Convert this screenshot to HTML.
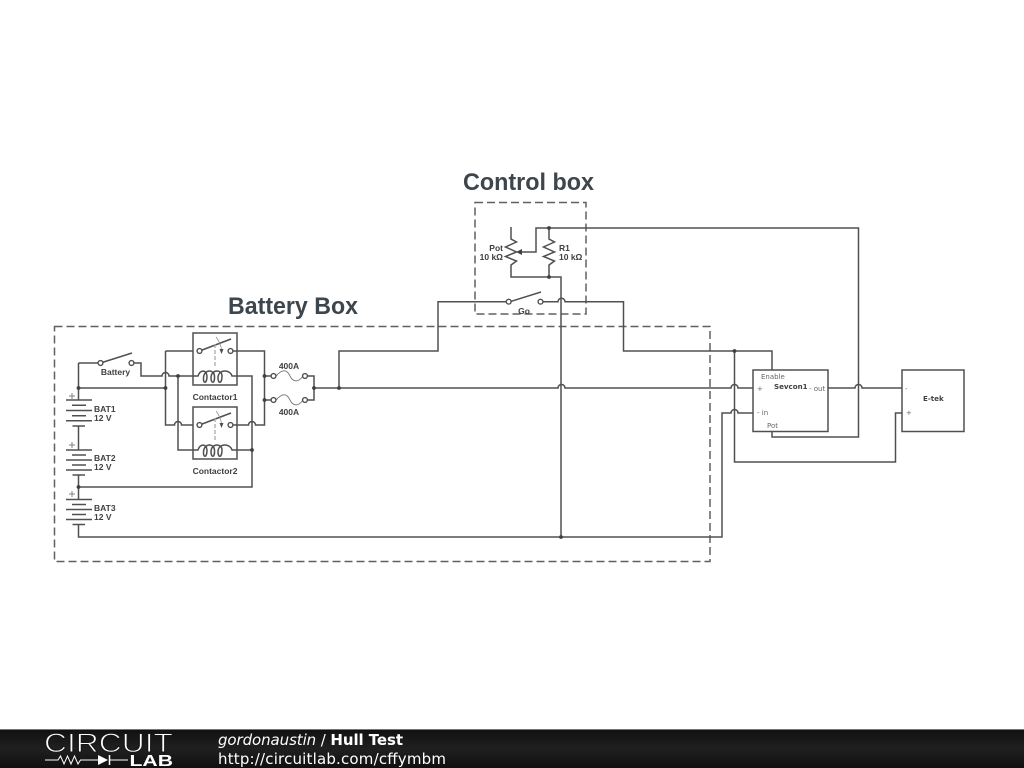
<!DOCTYPE html>
<html>
<head>
<meta charset="utf-8">
<title>Hull Test</title>
<style>
html,body{margin:0;padding:0;background:#fff;width:1024px;height:768px;overflow:hidden}
svg{display:block;filter:blur(.35px)}
.w{fill:none;stroke:#505050;stroke-width:1.5}
.d{fill:#404040}
.c{fill:#fff;stroke:#505050;stroke-width:1.4}
.l{font:bold 8.5px "Liberation Sans",sans-serif;fill:#404040}
.s{font:7px "DejaVu Sans",sans-serif;fill:#666}
.b{font:bold 7.1px "DejaVu Sans",sans-serif;fill:#404040}
.t{font:bold 24px "Liberation Sans",sans-serif;fill:#3c464c}
.dash{fill:none;stroke:#606060;stroke-width:1.5;stroke-dasharray:8 4}
.f{fill:none;stroke:#808080;stroke-width:1}
</style>
</head>
<body>
<svg width="1024" height="768" viewBox="0 0 1024 768" xmlns="http://www.w3.org/2000/svg">
<defs>
<linearGradient id="g" x1="0" y1="0" x2="0" y2="1">
<stop offset="0" stop-color="#101010"/>
<stop offset="0.5" stop-color="#202020"/>
<stop offset="1" stop-color="#101010"/>
</linearGradient>
</defs>
<rect width="1024" height="768" fill="#fff"/>

<text class="t" x="463" y="190" textLength="131" lengthAdjust="spacingAndGlyphs">Control box</text>
<text class="t" x="228" y="314" textLength="130" lengthAdjust="spacingAndGlyphs">Battery Box</text>
<rect class="dash" x="475" y="202.500" width="111" height="111.500"/>
<rect class="dash" x="54.500" y="326.500" width="655.500" height="235"/>

<!-- batteries -->
<path class="w" d="M78.500 363V400M66 400H92M72 405.300H86M66 410.500H92M72 415.700H86M66 420.800H92M72.500 426H85M78.500 426V449.500
M66 450H92M72 455H86M66 460H92M72 465H86M66 470H92M72.500 475H85M78.500 475V499.500
M66 499.500H92M72 504.500H86M66 509.500H92M72 514.500H86M66 519.500H92M72.500 524.500H85M78.500 524.500V537H722V413H731a3.500 3.500 0 0 1 7 0H753"/>
<path class="f" d="M69 396H75M72 393V399M69 445H75M72 442V448M69 494H75M72 491V497"/>

<!-- battery switch and wiring -->
<path class="w" d="M78.500 363H100M100.500 363L132 353M131.500 363H141V376H162a3.500 3.500 0 0 1 7 0H198"/>
<circle class="c" cx="100.500" cy="363" r="2.400"/>
<circle class="c" cx="131.500" cy="363" r="2.400"/>
<path class="w" d="M78.500 388H165.500M165.500 351V425H174.500a3.500 3.500 0 0 1 7 0H199.500M165.500 351H199.500M178 376V450H198"/>

<!-- contactors -->
<rect x="193" y="333" width="44" height="52" fill="#fff" stroke="#505050" stroke-width="1.5"/>
<rect x="193" y="407" width="44" height="52" fill="#fff" stroke="#505050" stroke-width="1.5"/>
<g>
<path class="w" d="M199.500 351L231 339"/>
<path d="M215 344V368" fill="none" stroke="#aaa" stroke-width="1.3" stroke-dasharray="4 2"/>
<path d="M216 337Q220 342 221.500 349" fill="none" stroke="#888" stroke-width=".7"/>
<path d="M219.500 349H223.500L221.500 354Z" fill="#505050"/>
<path class="w" d="M193 376H198C200 370 206 369 207 376C207 384 203 384 203.500 378C204 369 214 369 214.500 376C215 384 211 384 211 378C211 369 222 369 222 376C222 384 218 384 218 378C218 369 230 369 232 376H237"/>
<circle class="c" cx="199.500" cy="351" r="2.400"/>
<circle class="c" cx="230.500" cy="351" r="2.400"/>
</g>
<g transform="translate(0,74)">
<path class="w" d="M199.500 351L231 339"/>
<path d="M215 344V368" fill="none" stroke="#aaa" stroke-width="1.3" stroke-dasharray="4 2"/>
<path d="M216 337Q220 342 221.500 349" fill="none" stroke="#888" stroke-width=".7"/>
<path d="M219.500 349H223.500L221.500 354Z" fill="#505050"/>
<path class="w" d="M193 376H198C200 370 206 369 207 376C207 384 203 384 203.500 378C204 369 214 369 214.500 376C215 384 211 384 211 378C211 369 222 369 222 376C222 384 218 384 218 378C218 369 230 369 232 376H237"/>
<circle class="c" cx="199.500" cy="351" r="2.400"/>
<circle class="c" cx="230.500" cy="351" r="2.400"/>
</g>
<path class="w" d="M233 351H264.500V425H255.500a3.500 3.500 0 0 0 -7 0H233M237 376H252V487H78.500M237 450H252"/>

<!-- fuses -->
<path class="w" d="M264.500 376H271M264.500 400H271M307.500 376H314V400H307.500"/>
<path class="f" d="M276 376C283 368 287 370 290 376C293 382 298 383 303 376"/>
<path class="f" d="M276 400C283 392 287 394 290 400C293 406 298 407 303 400"/>
<circle class="c" cx="273.500" cy="376" r="2.400"/>
<circle class="c" cx="305" cy="376" r="2.400"/>
<circle class="c" cx="273.500" cy="400" r="2.400"/>
<circle class="c" cx="305" cy="400" r="2.400"/>

<!-- main bus -->
<path class="w" d="M314 388H558a3.500 3.500 0 0 1 7 0H731a3.500 3.500 0 0 1 7 0H753"/>
<path class="w" d="M339 388V351H438V301.700H506.500M510 301.700L541 292M543 301.700H558a3.500 3.500 0 0 1 7 0H623.500V351H772V370"/>
<path class="w" d="M734.500 351V462H895.500V413H901.500"/>
<circle class="c" cx="508.700" cy="301.700" r="2.400"/>
<circle class="c" cx="540.500" cy="301.700" r="2.400"/>

<!-- control box -->
<path class="w" d="M511 227V239L516.500 242L505.500 247L516.500 252L505.500 256.500L516.500 261L511 265V277H561V537"/>
<path class="w" d="M549 228V239L554.500 242L543.500 247L554.500 252L543.500 256.500L554.500 261L549 265V277"/>
<path class="w" d="M518 252H536V228H858.500V437H772V431"/>
<path d="M516 252L522 249V255Z" fill="#404040"/>

<!-- blocks -->
<rect x="753" y="370" width="75" height="61.500" fill="#fff" stroke="#505050" stroke-width="1.5"/>
<rect x="902" y="370" width="62" height="61.500" fill="#fff" stroke="#505050" stroke-width="1.5"/>
<path class="w" d="M828 388H855a3.500 3.500 0 0 1 7 0H902"/>

<!-- dots -->
<g class="d">
<circle cx="78.500" cy="388" r="1.900"/><circle cx="165.500" cy="388" r="1.900"/><circle cx="178" cy="376" r="1.900"/>
<circle cx="264.500" cy="376" r="1.900"/><circle cx="264.500" cy="400" r="1.900"/><circle cx="252" cy="450" r="1.900"/>
<circle cx="314" cy="388" r="1.900"/><circle cx="339" cy="388" r="1.900"/><circle cx="78.500" cy="487" r="1.900"/>
<circle cx="561" cy="537" r="1.900"/><circle cx="734.500" cy="351" r="1.900"/><circle cx="549" cy="228" r="1.900"/>
<circle cx="549" cy="277" r="1.900"/>
</g>

<!-- labels -->
<text class="l" x="115.500" y="375" text-anchor="middle">Battery</text>
<text class="l" x="215" y="400" text-anchor="middle">Contactor1</text>
<text class="l" x="215" y="474" text-anchor="middle">Contactor2</text>
<text class="l" x="289" y="369" text-anchor="middle">400A</text>
<text class="l" x="289" y="415" text-anchor="middle">400A</text>
<text class="l" x="94" y="412">BAT1</text><text class="l" x="94" y="421">12 V</text>
<text class="l" x="94" y="461">BAT2</text><text class="l" x="94" y="470">12 V</text>
<text class="l" x="94" y="511">BAT3</text><text class="l" x="94" y="520">12 V</text>
<text class="l" x="524" y="314" text-anchor="middle">Go</text>
<text class="l" x="503" y="251" text-anchor="end">Pot</text>
<text class="l" x="503" y="260" text-anchor="end">10 kΩ</text>
<text class="l" x="559" y="251">R1</text>
<text class="l" x="559" y="260">10 kΩ</text>

<text class="s" x="761" y="379">Enable</text>
<text class="s" x="757" y="391">+</text>
<text class="b" x="774" y="389">Sevcon1</text>
<text class="s" x="809" y="391">- out</text>
<text class="s" x="757" y="415">- in</text>
<text class="s" x="767" y="428">Pot</text>
<text class="s" x="905" y="391">-</text>
<text class="s" x="906" y="415">+</text>
<text class="b" x="923" y="401">E-tek</text>

<!-- footer -->
<rect x="0" y="729" width="1024" height="39" fill="url(#g)"/>
<rect x="0" y="729" width="1024" height="1" fill="#777"/>
<text x="44" y="752" font-family="Liberation Sans, sans-serif" font-size="27" fill="#fff" stroke="#181818" stroke-width="1" paint-order="fill stroke" textLength="129" lengthAdjust="spacingAndGlyphs">CIRCUIT</text>
<path d="M45 760H58L60.500 756L64 764L67.500 756L71 764L74.500 756L78 764L80.500 760H98M110 760H128" fill="none" stroke="#fff" stroke-width="1"/>
<path d="M98 755V765L108 760Z" fill="#fff"/>
<path d="M109.500 755V765" stroke="#fff" stroke-width="1.500"/>
<text x="129.500" y="766" font-family="Liberation Sans, sans-serif" font-weight="bold" font-size="15.500" fill="#fff" textLength="43.500" lengthAdjust="spacingAndGlyphs">LAB</text>
<text x="218" y="745" font-family="DejaVu Sans, sans-serif" font-size="15" fill="#fff" textLength="185" lengthAdjust="spacing"><tspan font-style="italic">gordonaustin</tspan> / <tspan font-weight="bold">Hull Test</tspan></text>
<text x="218" y="764" font-family="DejaVu Sans, sans-serif" font-size="15" fill="#fff" textLength="228" lengthAdjust="spacing">http://circuitlab.com/cffymbm</text>
</svg>
</body>
</html>
